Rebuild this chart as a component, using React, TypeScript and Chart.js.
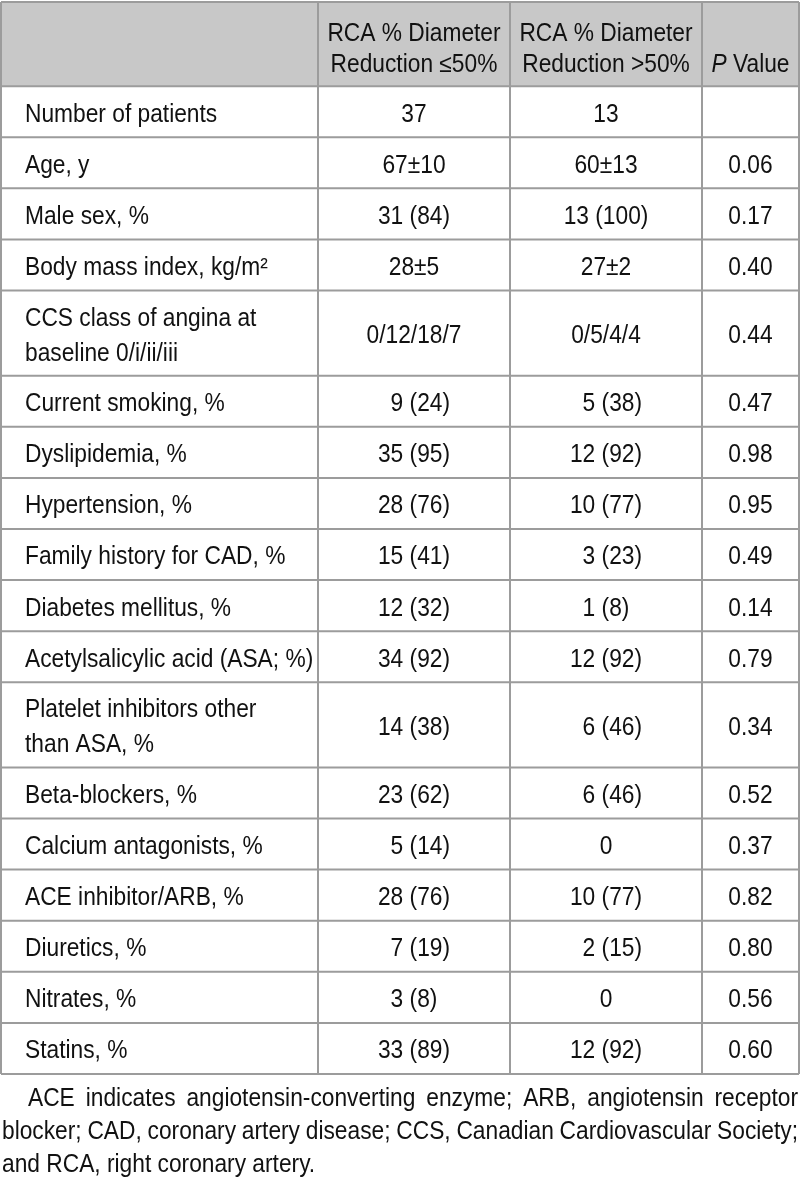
import React, { useEffect, useRef } from "react";
import { Chart, registerables } from "chart.js";

Chart.register(...registerables);

// ---------- DATA ----------
const headerLE50 = ["RCA % Diameter", "Reduction ≤50%"];
const headerGT50 = ["RCA % Diameter", "Reduction >50%"];
const headerP = ["P", " Value"];

const rowLabels: string[][] = [
  ["Number of patients"],
  ["Age, y"],
  ["Male sex, %"],
  ["Body mass index, kg/m²"],
  ["CCS class of angina at", "baseline 0/i/ii/iii"],
  ["Current smoking, %"],
  ["Dyslipidemia, %"],
  ["Hypertension, %"],
  ["Family history for CAD, %"],
  ["Diabetes mellitus, %"],
  ["Acetylsalicylic acid (ASA; %)"],
  ["Platelet inhibitors other", "than ASA, %"],
  ["Beta-blockers, %"],
  ["Calcium antagonists, %"],
  ["ACE inhibitor/ARB, %"],
  ["Diuretics, %"],
  ["Nitrates, %"],
  ["Statins, %"],
];

const valuesLE50 = [
  "37", "67±10", "31 (84)", "28±5", "0/12/18/7", "9 (24)", "35 (95)", "28 (76)", "15 (41)",
  "12 (32)", "34 (92)", "14 (38)", "23 (62)", "5 (14)", "28 (76)", "7 (19)", "3 (8)", "33 (89)",
];

const valuesGT50 = [
  "13", "60±13", "13 (100)", "27±2", "0/5/4/4", "5 (38)", "12 (92)", "10 (77)", "3 (23)",
  "1 (8)", "12 (92)", "6 (46)", "6 (46)", "0", "10 (77)", "2 (15)", "0", "12 (92)",
];

const pValues = [
  "", "0.06", "0.17", "0.40", "0.44", "0.47", "0.98", "0.95", "0.49",
  "0.14", "0.79", "0.34", "0.52", "0.37", "0.82", "0.80", "0.56", "0.60",
];

const footnoteLines = [
  "ACE indicates angiotensin-converting enzyme; ARB, angiotensin receptor",
  "blocker; CAD, coronary artery disease; CCS, Canadian Cardiovascular Society;",
  "and RCA, right coronary artery.",
];

// ---------- STYLE ----------
const COL_WIDTHS = [317, 192, 192, 97];
const HEADER_H = 84;
const ROW_H_SINGLE = 51;
const ROW_H_DOUBLE = 85;
const FONT_SIZE = 25;
const FONT_FAMILY = '"Liberation Sans", Arial, sans-serif';
const SX = 0.91; // horizontal condensing
const TEXT_COLOR = "#111111";
const HEADER_BG = "#c8c8c8";
const BORDER_COLOR = "#9c9c9c";
const BORDER_W = 2;

const rowHeights = rowLabels.map((l) => (l.length > 1 ? ROW_H_DOUBLE : ROW_H_SINGLE));
const totalW = COL_WIDTHS.reduce((a, b) => a + b, 0);
const totalH = HEADER_H + rowHeights.reduce((a, b) => a + b, 0);

function colEdges(): number[] {
  const e = [0];
  COL_WIDTHS.forEach((w) => e.push(e[e.length - 1] + w));
  return e;
}
function rowEdges(): number[] {
  const e = [0, HEADER_H];
  rowHeights.forEach((h) => e.push(e[e.length - 1] + h));
  return e;
}

function textW(ctx: CanvasRenderingContext2D, s: string) {
  return ctx.measureText(s).width * SX;
}

function drawText(
  ctx: CanvasRenderingContext2D,
  s: string,
  x: number,
  y: number,
  align: "left" | "center" | "right"
) {
  const w = textW(ctx, s);
  let left = x;
  if (align === "center") left = x - w / 2;
  else if (align === "right") left = x - w;
  ctx.save();
  ctx.translate(left, y);
  ctx.scale(SX, 1);
  ctx.textAlign = "left";
  ctx.fillText(s, 0, 0);
  ctx.restore();
}

// values like "9 (24)" are padded to the width of "00 (00)" so digits line up
function drawValue(ctx: CanvasRenderingContext2D, s: string, cx: number, y: number) {
  const m = /^(\d+) \((\d+)\)$/.exec(s);
  if (!m) {
    drawText(ctx, s, cx, y, "center");
    return;
  }
  const a = m[1];
  const b = m[2];
  const pa = a.length < 2 ? "0".repeat(2 - a.length) : "";
  const pb = b.length < 2 ? "0".repeat(2 - b.length) : "";
  const full = pa + a + " (" + b + pb + ")";
  const fw = textW(ctx, full);
  const left = cx - fw / 2 + (pa ? textW(ctx, pa) : 0);
  drawText(ctx, s, left, y, "left");
}

const tablePlugin = {
  id: "tablePlugin",
  beforeDraw(chart: any) {
    const ctx: CanvasRenderingContext2D = chart.ctx;
    ctx.save();
    ctx.fillStyle = "#ffffff";
    ctx.fillRect(0, 0, chart.width, chart.height);
    ctx.restore();
  },
  afterDraw(chart: any) {
    const ctx: CanvasRenderingContext2D = chart.ctx;
    const xs = chart.scales.x;
    const ys = chart.scales.y;
    const ce = colEdges().map((v) => xs.getPixelForValue(v));
    const re = rowEdges().map((v) => ys.getPixelForValue(v));
    const font = `${FONT_SIZE}px ${FONT_FAMILY}`;
    const italic = `italic ${FONT_SIZE}px ${FONT_FAMILY}`;

    ctx.save();
    // header background
    ctx.fillStyle = HEADER_BG;
    ctx.fillRect(ce[0], re[0], ce[4] - ce[0], re[1] - re[0]);

    // grid lines
    ctx.strokeStyle = BORDER_COLOR;
    ctx.lineWidth = BORDER_W;
    ctx.beginPath();
    re.forEach((y) => {
      ctx.moveTo(ce[0], y);
      ctx.lineTo(ce[4], y);
    });
    ce.forEach((x) => {
      ctx.moveTo(x, re[0]);
      ctx.lineTo(x, re[re.length - 1]);
    });
    ctx.stroke();

    ctx.fillStyle = TEXT_COLOR;
    ctx.textBaseline = "middle";
    ctx.font = font;

    // header
    const hTop = re[0];
    const line1 = hTop + 32;
    const line2 = hTop + 63;
    const c2 = (ce[1] + ce[2]) / 2;
    const c3 = (ce[2] + ce[3]) / 2;
    const c4 = (ce[3] + ce[4]) / 2;
    drawText(ctx, headerLE50[0], c2, line1, "center");
    drawText(ctx, headerLE50[1], c2, line2, "center");
    drawText(ctx, headerGT50[0], c3, line1, "center");
    drawText(ctx, headerGT50[1], c3, line2, "center");
    ctx.font = italic;
    const wP = textW(ctx, headerP[0]);
    ctx.font = font;
    const wV = textW(ctx, headerP[1]);
    const pLeft = c4 - (wP + wV) / 2;
    ctx.font = italic;
    drawText(ctx, headerP[0], pLeft, line2, "left");
    ctx.font = font;
    drawText(ctx, headerP[1], pLeft + wP, line2, "left");

    // body
    rowLabels.forEach((lines, i) => {
      const top = re[i + 1];
      const bot = re[i + 2];
      const mid = (top + bot) / 2 + 3;
      const lh = 35;
      lines.forEach((l, k) => {
        const y = mid + (k - (lines.length - 1) / 2) * lh;
        drawText(ctx, l, ce[0] + 24, y, "left");
      });
      drawValue(ctx, valuesLE50[i], c2, mid);
      drawValue(ctx, valuesGT50[i], c3, mid);
      if (pValues[i]) drawText(ctx, pValues[i], c4, mid, "center");
    });

    // footnote (justified)
    const fTop = re[re.length - 1];
    const fLeft = ce[0];
    const fRight = ce[4];
    footnoteLines.forEach((line, k) => {
      const y = fTop + 25 + k * 33;
      const startX = k === 0 ? fLeft + 27 : fLeft + 1;
      const words = line.split(" ");
      const last = k === footnoteLines.length - 1;
      if (last) {
        drawText(ctx, line, startX, y, "left");
        return;
      }
      const ws = words.map((w) => textW(ctx, w));
      const sum = ws.reduce((a, b) => a + b, 0);
      const gap = (fRight - 1 - startX - sum) / (words.length - 1);
      let x = startX;
      words.forEach((w, j) => {
        drawText(ctx, w, x, y, "left");
        x += ws[j] + gap;
      });
    });
    ctx.restore();
  },
};

export default function App() {
  const ref = useRef<HTMLCanvasElement | null>(null);
  useEffect(() => {
    if (!ref.current) return;
    const chart = new Chart(ref.current, {
      type: "scatter",
      data: { datasets: [] },
      options: {
        animation: false,
        responsive: false,
        devicePixelRatio: 1,
        layout: { padding: { top: 2, left: 1, right: 1, bottom: 108 } },
        plugins: { legend: { display: false }, tooltip: { enabled: false } },
        scales: {
          x: { type: "linear", min: 0, max: totalW, display: false },
          y: { type: "linear", min: 0, max: totalH, reverse: true, display: false },
        },
      },
      plugins: [tablePlugin],
    });
    return () => chart.destroy();
  }, []);
  return (
    <div style={{ position: "absolute", left: 0, top: 0, width: 800, height: 1182, background: "#fff" }}>
      <canvas ref={ref} width={800} height={1182} style={{ display: "block", width: 800, height: 1182 }} />
    </div>
  );
}
